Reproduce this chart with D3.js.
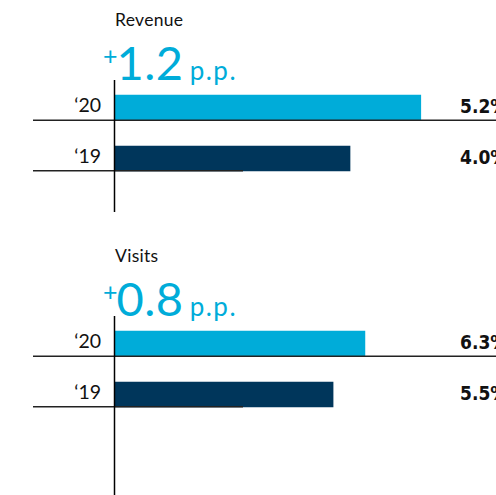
<!DOCTYPE html>
<html>
<head>
<meta charset="utf-8">
<script src="https://cdn.jsdelivr.net/npm/d3@7"></script>
<style>
  html, body { margin: 0; padding: 0; background: #fff; overflow: hidden; }
  svg { display: block; }
</style>
</head>
<body>
<script>
// Share of total, by year, for two metrics
const years = ["\u201820", "\u201819"];
const revenueValues = [5.2, 4.0];
const visitsValues = [6.3, 5.5];
const revenueChange = "1.2";
const visitsChange = "0.8";
const panelTitles = ["Revenue", "Visits"];

const W = 496, H = 495;
const colors = ["#00acd9", "#00365b"];
const accent = "#00acd9";

const svg = d3.select("body").append("svg")
  .attr("width", W).attr("height", H);

const axisX = 114.5;

function panel(opts) {
  const { title, change, values, top, domainMax, axisTop, axisBottom } = opts;
  const g = svg.append("g").attr("transform", `translate(0,${top})`);

  const x = d3.scaleLinear().domain([0, domainMax]).range([axisX, axisX + 398]);
  const y = d3.scaleBand().domain(years).range([0, 102])
    .paddingInner(0.5).paddingOuter(0.25);

  // title
  g.append("text")
    .attr("x", 115).attr("y", -56)
    .attr("font-family", "Lato, 'Noto Sans', sans-serif")
    .attr("font-size", 17.5)
    .attr("letter-spacing", 0.3)
    .attr("fill", "#111")
    .text(title);

  // headline change in percentage points
  const head = g.append("text")
    .attr("x", 103).attr("y", -2)
    .attr("font-family", "Lato, 'Noto Sans', sans-serif")
    .attr("fill", accent);
  head.append("tspan").attr("font-size", 25).attr("dy", -15).text("+");
  head.append("tspan").attr("font-size", 47).attr("dx", -1).attr("dy", 15)
    .attr("letter-spacing", 0.5).text(change);
  head.append("tspan").attr("font-size", 26).attr("dx", 6)
    .attr("letter-spacing", 1.5).text("p.p.");

  // bars
  g.selectAll("rect.bar").data(values).join("rect")
    .attr("class", "bar")
    .attr("x", x(0))
    .attr("y", (d, i) => y(years[i]))
    .attr("width", d => x(d) - x(0))
    .attr("height", y.bandwidth())
    .attr("fill", (d, i) => colors[i]);

  // row baselines
  const rowLines = [
    { x1: 33, x2: W, yv: y(years[0]) + y.bandwidth() },
    { x1: 33, x2: 243, yv: y(years[1]) + y.bandwidth() - 0.5 }
  ];
  g.selectAll("line.row").data(rowLines).join("line")
    .attr("class", "row")
    .attr("x1", d => d.x1).attr("x2", d => d.x2)
    .attr("y1", d => d.yv).attr("y2", d => d.yv)
    .attr("stroke", "#222").attr("stroke-width", 1.6);

  // vertical axis
  g.append("line")
    .attr("x1", axisX).attr("x2", axisX)
    .attr("y1", axisTop - top).attr("y2", axisBottom - top)
    .attr("stroke", "#000").attr("stroke-width", 1.5);

  // year labels
  g.selectAll("text.year").data(years).join("text")
    .attr("class", "year")
    .attr("x", 101)
    .attr("y", d => y(d) + y.bandwidth() - 8)
    .attr("text-anchor", "end")
    .attr("font-family", "Lato, 'Noto Sans', sans-serif")
    .attr("font-size", 19.5)
    .attr("fill", "#111")
    .text(d => d);

  // value labels
  g.selectAll("text.val").data(values).join("text")
    .attr("class", "val")
    .attr("x", 460)
    .attr("y", (d, i) => y(years[i]) + y.bandwidth() - 7)
    .attr("font-family", "'Liberation Sans Narrow', 'DejaVu Sans Condensed', 'Liberation Sans', sans-serif")
    .attr("font-weight", "bold")
    .attr("font-size", 19)
    .attr("fill", "#111")
    .text(d => d.toFixed(1) + "%");
}

panel({ title: panelTitles[0], change: revenueChange, values: revenueValues,
        top: 82, domainMax: 6.75, axisTop: 80, axisBottom: 212 });
panel({ title: panelTitles[1], change: visitsChange, values: visitsValues,
        top: 318, domainMax: 10, axisTop: 316, axisBottom: 495 });
</script>
</body>
</html>
